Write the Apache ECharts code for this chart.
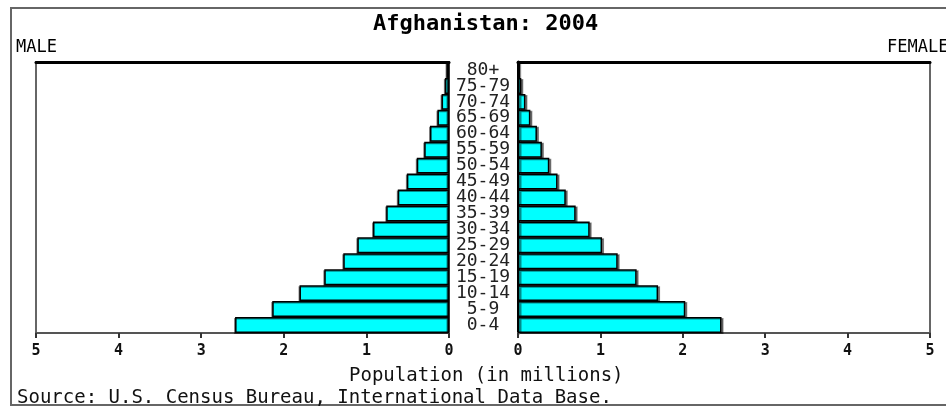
<!DOCTYPE html>
<html lang="en">
<head>
    <meta charset="UTF-8">
    <title>Afghanistan: 2004</title>
    <script src="https://cdn.jsdelivr.net/npm/echarts@6/dist/echarts.min.js"></script>
</head>
<body style="margin:0;background:#fff">
<div id="main" style="width:946px;height:406px"></div>
<script type="text/javascript">
    // age groups, bottom to top
    var ageGroups = ['0-4', '5-9', '10-14', '15-19', '20-24', '25-29', '30-34', '35-39', '40-44',
        '45-49', '50-54', '55-59', '60-64', '65-69', '70-74', '75-79', '80+'];
    // population in millions
    var male = [2.59, 2.14, 1.81, 1.51, 1.28, 1.11, 0.92, 0.76, 0.62, 0.51, 0.39, 0.30, 0.23, 0.14, 0.09, 0.05, 0.03];
    var female = [2.47, 2.03, 1.70, 1.44, 1.21, 1.02, 0.87, 0.70, 0.58, 0.48, 0.38, 0.29, 0.23, 0.15, 0.09, 0.04, 0.01];
    var ticks = [0, 1, 2, 3, 4, 5];

    var font = 'DejaVu Sans Mono';
    var myChart = echarts.init(document.getElementById('main'));

    function barSeries(data, idx) {
        return {
            type: 'bar',
            xAxisIndex: idx,
            yAxisIndex: idx,
            data: data,
            barCategoryGap: 0,
            silent: true,
            itemStyle: {
                color: '#00ffff',
                borderColor: '#000',
                borderWidth: 1.5,
                shadowColor: 'rgba(0,0,0,0.45)',
                shadowOffsetX: idx === 0 ? -1 : 2,
                shadowOffsetY: 1
            }
        };
    }

    function valueAxis(idx, inverse) {
        return {
            type: 'value',
            gridIndex: idx,
            min: ticks[0],
            max: ticks[ticks.length - 1],
            interval: 1,
            inverse: inverse,
            position: 'bottom',
            axisLine: {show: true, lineStyle: {color: '#555', width: 2}},
            axisTick: {show: true, length: 5, lineStyle: {color: '#333', width: 2}},
            axisLabel: {
                margin: 11, color: '#111', fontFamily: font, fontSize: 15, fontWeight: 'bold',
                showMinLabel: true, showMaxLabel: true
            },
            splitLine: {show: false}
        };
    }

    function topAxis(idx, inverse) {
        return {
            type: 'value',
            gridIndex: idx,
            min: 0, max: 5, inverse: inverse,
            position: 'top',
            axisLine: {show: true, lineStyle: {color: '#000', width: 3}},
            axisTick: {show: false},
            axisLabel: {show: false},
            splitLine: {show: false}
        };
    }

    var option = {
        backgroundColor: '#fff',
        animation: false,
        title: [
            {text: 'Afghanistan: 2004', left: 368, top: 8,
                textStyle: {fontFamily: font, fontSize: 22, fontWeight: 'bold', color: '#000'}},
            {text: 'MALE', left: 11, top: 34,
                textStyle: {fontFamily: font, fontSize: 17, fontWeight: 'normal', color: '#000'}},
            {text: 'FEMALE', left: 882, top: 34,
                textStyle: {fontFamily: font, fontSize: 17, fontWeight: 'normal', color: '#000'}},
            {text: 'Population (in millions)', left: 344, top: 362,
                textStyle: {fontFamily: font, fontSize: 19, fontWeight: 'normal', color: '#111'}},
            {text: 'Source: U.S. Census Bureau, International Data Base.', left: 12, top: 384,
                textStyle: {fontFamily: font, fontSize: 19, fontWeight: 'normal', color: '#111'}}
        ],
        graphic: [
            {type: 'rect', shape: {x: 11, y: 8, width: 940, height: 397}, z: -1,
                style: {fill: null, stroke: '#666', lineWidth: 2}}
        ],
        grid: [
            {left: 36, right: 497, top: 62, bottom: 73, show: true, borderColor: '#666', borderWidth: 2},
            {left: 518, right: 16, top: 62, bottom: 73, show: true, borderColor: '#666', borderWidth: 2}
        ],
        xAxis: [valueAxis(0, true), valueAxis(1, false), topAxis(0, true), topAxis(1, false)],
        yAxis: [
            {
                type: 'category', gridIndex: 0, data: ageGroups, position: 'right',
                axisLine: {show: true, lineStyle: {color: '#333', width: 2}},
                axisTick: {show: false}, axisLabel: {show: false}
            },
            {
                type: 'category', gridIndex: 1, data: ageGroups, position: 'left',
                axisLine: {show: true, lineStyle: {color: '#000', width: 3}},
                axisTick: {show: false},
                axisLabel: {
                    margin: 35, align: 'center', color: '#222',
                    fontFamily: font, fontSize: 18, interval: 0
                }
            }
        ],
        series: [barSeries(male, 0), barSeries(female, 1)]
    };

    myChart.setOption(option);
</script>
</body>
</html>
